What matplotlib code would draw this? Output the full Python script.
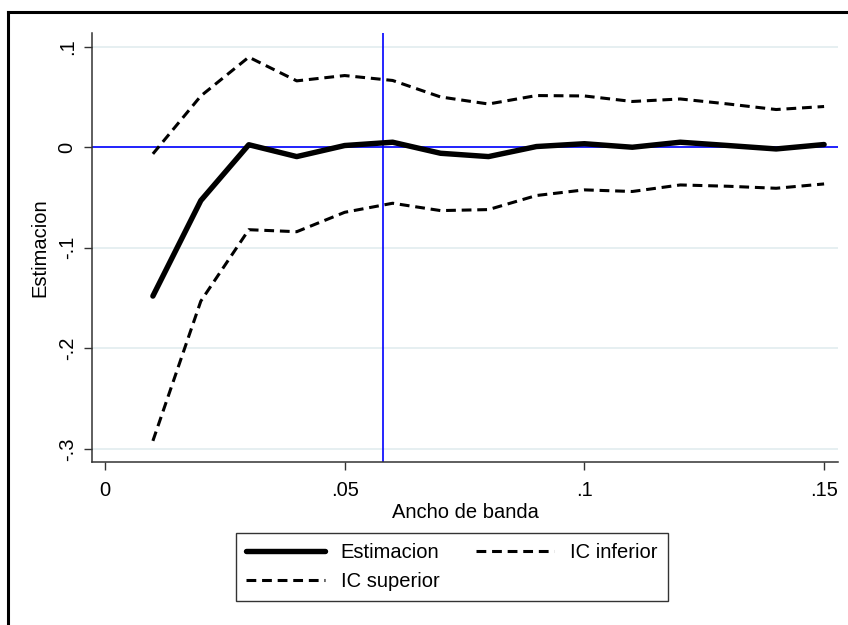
import matplotlib
matplotlib.use("Agg")
import matplotlib.pyplot as plt
from matplotlib.lines import Line2D

plt.rcParams['font.family'] = ['Liberation Sans', 'DejaVu Sans']

bandwidth = [0.01, 0.02, 0.03, 0.04, 0.05, 0.06, 0.07, 0.08, 0.09, 0.10, 0.11, 0.12, 0.13, 0.14, 0.15]
estimacion = [-0.148, -0.053, 0.0025, -0.0093, 0.0017, 0.005, -0.006, -0.0093, 0.0007, 0.0035, 0.0, 0.005, 0.0017, -0.0017, 0.0027]
ic_superior = [-0.0066, 0.051, 0.0896, 0.066, 0.0713, 0.0664, 0.050, 0.043, 0.0514, 0.051, 0.0455, 0.048, 0.043, 0.0375, 0.0405]
ic_inferior = [-0.292, -0.153, -0.082, -0.084, -0.0647, -0.0557, -0.063, -0.062, -0.048, -0.0424, -0.044, -0.0375, -0.0388, -0.0408, -0.0365]
vline_x = 0.058
xticks = [0, 0.05, 0.1, 0.15]
xticklabels = ['0', '.05', '.1', '.15']
yticks = [-0.3, -0.2, -0.1, 0, 0.1]
yticklabels = ['-.3', '-.2', '-.1', '0', '.1']

W, H = 848, 625
fig = plt.figure(figsize=(W / 100, H / 100), dpi=100)
ax = fig.add_axes([92 / W, 1 - 462 / H, (838 - 92) / W, (462 - 33) / H])

# outer frame (top & left visible)
fig.add_artist(Line2D([8 / W, 8 / W], [1 - 12 / H, -0.05], transform=fig.transFigure, color='black', lw=2.2))
fig.add_artist(Line2D([8 / W, 1.05], [1 - 12 / H, 1 - 12 / H], transform=fig.transFigure, color='black', lw=2.2))

ax.set_xlim(-0.0027, 0.1529)
ax.set_ylim(-0.313, 0.1136)

for yv in yticks:
    ax.axhline(yv, color='#E6EFF1', lw=1.4, zorder=0)

ax.axhline(0, color='#0000FF', lw=1.2, zorder=1)
ax.axvline(vline_x, color='#0000FF', lw=1.2, zorder=1)

dash = (0, (3.2, 1.9))
l1, = ax.plot(bandwidth, estimacion, color='black', lw=3.9, solid_joinstyle='round', solid_capstyle='round', zorder=3, label='Estimacion')
l2, = ax.plot(bandwidth, ic_inferior, color='black', lw=2.2, linestyle=dash, zorder=3, label='IC inferior')
l3, = ax.plot(bandwidth, ic_superior, color='black', lw=2.2, linestyle=dash, zorder=3, label='IC superior')

ax.set_xticks(xticks)
ax.set_xticklabels(xticklabels)
ax.set_yticks(yticks)
ax.set_yticklabels(yticklabels, rotation=90, va='center')
ax.tick_params(axis='both', direction='out', length=6, width=1, color='#333333', labelsize=14.5, pad=5)
ax.tick_params(axis='x', pad=8)

for s in ['top', 'right']:
    ax.spines[s].set_visible(False)
for s in ['left', 'bottom']:
    ax.spines[s].set_color('#333333')
    ax.spines[s].set_linewidth(1.1)

ax.set_xlabel('Ancho de banda', fontsize=14.5, labelpad=2)
ax.set_ylabel('Estimacion', fontsize=14.5, labelpad=6)

leg = fig.legend([l1, l3, l2], ['Estimacion', 'IC superior', 'IC inferior'], ncol=2,
                 loc='center', bbox_to_anchor=(452 / W, 1 - 567 / H), fontsize=14.5,
                 frameon=True, fancybox=False, edgecolor='black', handlelength=3.9,
                 columnspacing=1.8, handletextpad=0.8, labelspacing=0.5, borderpad=0.5)
leg.get_frame().set_linewidth(1.0)

fig.savefig('out.png', dpi=100, facecolor='white')
